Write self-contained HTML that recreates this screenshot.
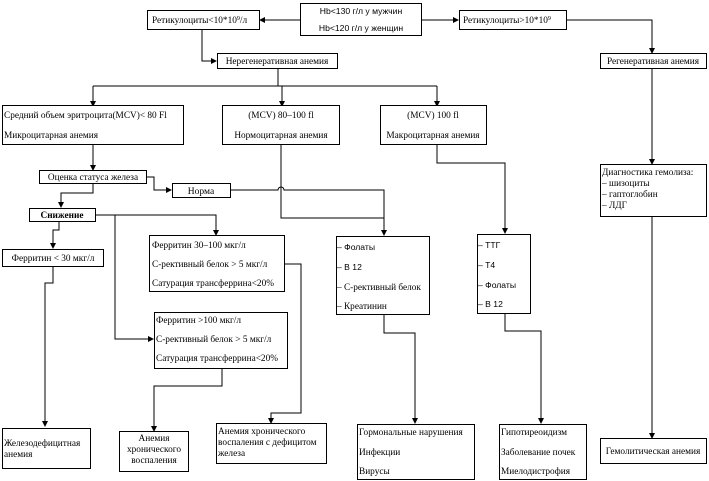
<!DOCTYPE html>
<html><head><meta charset="utf-8"><style>
html,body{margin:0;padding:0;background:#fff;}
svg{display:block;}
text{font-family:"Liberation Serif",serif;font-size:9.3px;fill:#000;}
.s{font-family:"Liberation Sans",sans-serif;font-size:8.6px;}
rect{fill:#fff;stroke:#000;stroke-width:1;}
path,line{stroke:#000;stroke-width:1;fill:none;}
</style></head><body>
<svg width="709" height="481" viewBox="0 0 709 481" xmlns="http://www.w3.org/2000/svg">
<defs><marker id="a" markerWidth="6" markerHeight="6" refX="5" refY="3" orient="auto" markerUnits="userSpaceOnUse"><path d="M0,0 L6,3 L0,6 z" style="fill:#000;stroke:none"/></marker></defs>

<path d="M300,20 H260" marker-end="url(#a)"/>
<path d="M421,20 H458" marker-end="url(#a)"/>
<path d="M566,20 H652 V53" marker-end="url(#a)"/>
<path d="M202,30 V61 H216" marker-end="url(#a)"/>
<path d="M278,68 V86 M93,86 H437" />
<path d="M93,86 V106" marker-end="url(#a)"/>
<path d="M282,86 V106" marker-end="url(#a)"/>
<path d="M437,86 V106" marker-end="url(#a)"/>
<path d="M93,144 V170" marker-end="url(#a)"/>
<path d="M146,177 H154 V190 H171" marker-end="url(#a)"/>
<path d="M230,190 H278 a3,3 0 0 1 6,0 H384 V235" marker-end="url(#a)"/>
<path d="M281,144 V218 H384"/>
<path d="M437,144 V163 H505 V233" marker-end="url(#a)"/>
<path d="M652,69 V164" marker-end="url(#a)"/>
<path d="M93,183 V193 H61 V207" marker-end="url(#a)"/>
<path d="M95,215 H216 V235" marker-end="url(#a)"/>
<path d="M115,215 V339 H153" marker-end="url(#a)"/>
<path d="M59,221 V230 H53 V248" marker-end="url(#a)"/>
<path d="M53,266 V283 H45 V426" marker-end="url(#a)"/>
<path d="M284,264 H301 V413 H271 V423" marker-end="url(#a)"/>
<path d="M222,368 V386 H154 V431" marker-end="url(#a)"/>
<path d="M384,314 V333 H415 V423" marker-end="url(#a)"/>
<path d="M505,313 V331 H541 V423" marker-end="url(#a)"/>
<path d="M652,216 V438" marker-end="url(#a)"/>

<rect x="300.5" y="3.5" width="121" height="32"/>
<text x="361" y="14" text-anchor="middle" class="s">Hb&lt;130 г/л у мужчин</text>
<text x="361" y="31" text-anchor="middle" class="s">Hb&lt;120 г/л у женщин</text>

<rect x="147.5" y="10.5" width="112" height="19"/>
<text x="152" y="23">Ретикулоциты&lt;10*10<tspan dy="-3" font-size="6">9</tspan><tspan dy="3">/л</tspan></text>

<rect x="459.5" y="10.5" width="107" height="19"/>
<text x="463" y="23">Ретикулоциты&gt;10*10<tspan dy="-3" font-size="6">9</tspan></text>

<rect x="217.5" y="53.5" width="120" height="15"/>
<text x="277" y="64" text-anchor="middle">Нерегенеративная анемия</text>

<rect x="600.5" y="53.5" width="106" height="15"/>
<text x="653" y="64" text-anchor="middle">Регенеративная анемия</text>

<rect x="2.5" y="105.5" width="181" height="39"/>
<text x="4" y="118">Средний объем эритроцита(MCV)&lt; 80 Fl</text>
<text x="4" y="138">Микроцитарная анемия</text>

<rect x="222.5" y="105.5" width="117" height="39"/>
<text x="281" y="118" text-anchor="middle">(MCV) 80–100 fl</text>
<text x="281" y="138" text-anchor="middle">Нормоцитарная анемия</text>

<rect x="380.5" y="105.5" width="106" height="39"/>
<text x="433" y="118" text-anchor="middle">(MCV) 100 fl</text>
<text x="433" y="138" text-anchor="middle">Макроцитарная анемия</text>

<rect x="39.5" y="170.5" width="107" height="13"/>
<text x="93" y="180" text-anchor="middle">Оценка статуса железа</text>

<rect x="172.5" y="183.5" width="58" height="14"/>
<text x="201" y="194" text-anchor="middle" style="font-size:9.5px">Норма</text>

<rect x="29.5" y="208.5" width="66" height="13"/>
<text x="62" y="218" text-anchor="middle" style="font-weight:bold">Снижение</text>

<rect x="600.5" y="164.5" width="106" height="52"/>
<text x="602" y="175">Диагностика гемолиза:</text>
<text x="602" y="186">– шизоциты</text>
<text x="602" y="197">– гаптоглобин</text>
<text x="602" y="208">– ЛДГ</text>

<rect x="2.5" y="249.5" width="101" height="17"/>
<text x="53" y="261" text-anchor="middle">Ферритин &lt; 30 мкг/л</text>

<rect x="149.5" y="235.5" width="135" height="56"/>
<text x="152" y="248">Ферритин 30–100 мкг/л</text>
<text x="152" y="267">С-рективный белок &gt; 5 мкг/л</text>
<text x="152" y="286">Сатурация трансферрина&lt;20%</text>

<rect x="154.5" y="312.5" width="133" height="56"/>
<text x="156" y="323">Ферритин &gt;100 мкг/л</text>
<text x="156" y="342">С-рективный белок &gt; 5 мкг/л</text>
<text x="156" y="361">Сатурация трансферрина&lt;20%</text>

<rect x="336.5" y="236.5" width="93" height="78"/>
<text x="337" y="250" class="s">– Фолаты</text>
<text x="337" y="270" class="s">– В 12</text>
<text x="337" y="290">– С-рективный белок</text>
<text x="337" y="309">– Креатинин</text>

<rect x="477.5" y="234.5" width="53" height="79"/>
<text x="478" y="248" class="s">– ТТГ</text>
<text x="478" y="268" class="s">– Т4</text>
<text x="478" y="288" class="s">– Фолаты</text>
<text x="478" y="307" class="s">– В 12</text>

<rect x="2.5" y="428.5" width="88" height="40"/>
<text x="4" y="446">Железодефицитная</text>
<text x="4" y="457">анемия</text>

<rect x="119.5" y="431.5" width="69" height="40"/>
<text x="154" y="441" text-anchor="middle">Анемия</text>
<text x="154" y="452" text-anchor="middle">хронического</text>
<text x="154" y="463" text-anchor="middle">воспаления</text>

<rect x="216.5" y="423.5" width="110" height="40"/>
<text x="218" y="434">Анемия хронического</text>
<text x="218" y="445">воспаления с дефицитом</text>
<text x="218" y="456">железа</text>

<rect x="357.5" y="424.5" width="117" height="55"/>
<text x="359" y="435">Гормональные нарушения</text>
<text x="359" y="455">Инфекции</text>
<text x="359" y="474">Вирусы</text>

<rect x="499.5" y="424.5" width="87" height="55"/>
<text x="501" y="435">Гипотиреоидизм</text>
<text x="501" y="455">Заболевание почек</text>
<text x="501" y="474">Миелодистрофия</text>

<rect x="600.5" y="438.5" width="106" height="25"/>
<text x="653" y="454" text-anchor="middle">Гемолитическая анемия</text>
</svg>
</body></html>
